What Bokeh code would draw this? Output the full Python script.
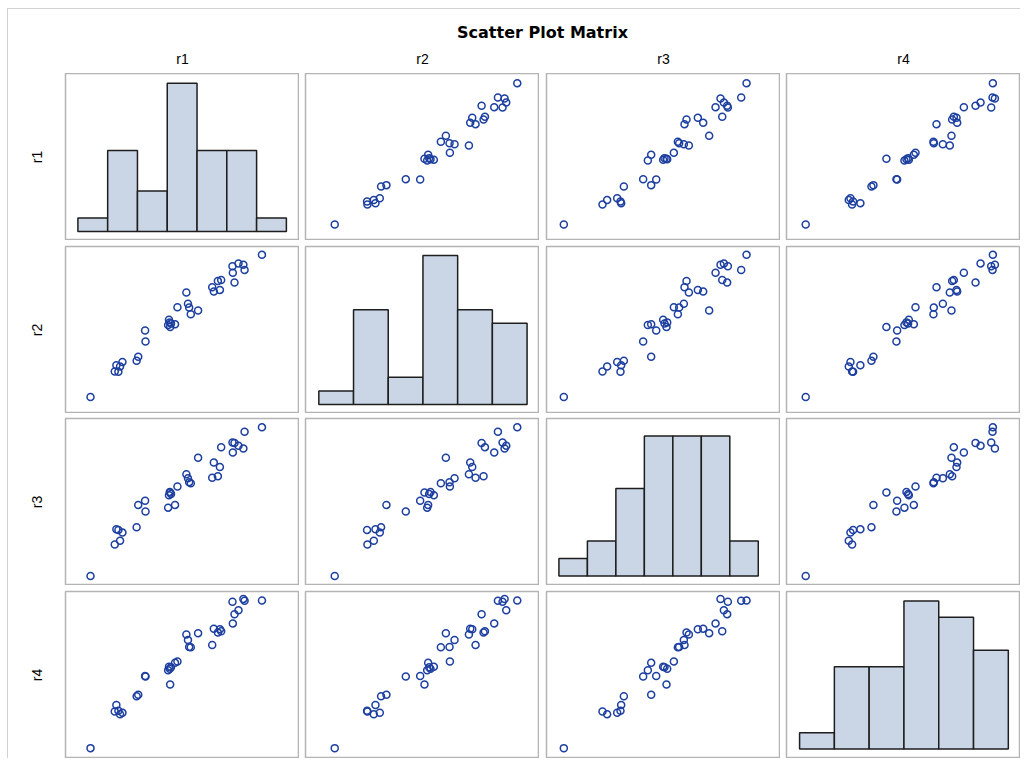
import numpy as np
from bokeh.plotting import figure
from bokeh.layouts import row, column
from bokeh.models import Range1d, Label, FixedTicker
from bokeh.embed import file_html
from bokeh.resources import INLINE

# ---------------- data ----------------
names = ["r1", "r2", "r3", "r4"]

r1 = [30.90, 27.98, 27.78, 26.96, 26.29, 26.01, 25.95, 24.05, 23.84, 23.50,
      22.82, 22.55, 20.18, 18.95, 18.68, 18.48, 18.21, 16.71, 16.31, 15.63,
      15.49, 15.42, 15.29, 15.15, 11.35, 11.28, 10.13, 9.86, 7.48, 7.08,
      6.80, 6.46, 6.19, 2.12]
r2 = [28.59, 25.80, 26.76, 27.00, 23.45, 25.27, 26.47, 23.93, 22.10, 23.73,
      21.81, 22.58, 18.30, 17.58, 18.83, 19.55, 21.62, 18.88, 15.75, 15.90,
      15.22, 16.09, 16.57, 15.61, 12.53, 14.60, 9.74, 8.97, 8.78, 7.92,
      6.95, 8.16, 7.00, 2.29]
r3 = [32.94, 32.00, 28.37, 28.96, 29.54, 27.50, 29.66, 28.67, 24.39, 22.40,
      25.33, 22.05, 26.38, 20.88, 21.11, 21.93, 22.81, 20.18, 16.20, 18.54,
      18.89, 19.01, 18.30, 15.61, 14.79, 17.08, 16.20, 11.40, 10.23, 8.47,
      10.81, 10.93, 7.65, 0.86]
r4 = [27.78, 27.73, 28.07, 26.01, 25.29, 23.61, 27.54, 22.17, 22.55, 21.93,
      22.65, 19.68, 21.83, 19.24, 19.29, 20.59, 21.59, 16.66, 16.42, 15.60,
      12.48, 15.36, 15.70, 15.07, 13.92, 14.02, 10.61, 10.33, 7.31, 7.07,
      7.69, 8.74, 7.55, 0.88]
data = {"r1": r1, "r2": r2, "r3": r3, "r4": r4}

# histogram bin edges per variable
bin_edges = {
    "r1": [0, 5, 10, 15, 20, 25, 30, 35],
    "r2": [0, 5, 10, 15, 20, 25, 30],
    "r3": [0, 5, 10, 15, 20, 25, 30, 35],
    "r4": [0, 5, 10, 15, 20, 25, 30],
}

# axis extents (hidden axes)
x_ranges = {"r1": (-2.08, 37.20), "r2": (-1.92, 31.79),
            "r3": (-2.18, 38.90), "r4": (-1.88, 31.75)}
y_ranges = {"r1": (-1.15, 32.87), "r2": (-0.77, 30.13),
            "r3": (-1.19, 34.85), "r4": (-1.01, 29.42)}
hist_y_ranges = {"r1": (-0.67, 11.72), "r2": (-0.67, 11.67),
                 "r3": (-0.54, 9.0), "r4": (-0.57, 9.57)}

# ---------------- styling / layout ----------------
FRAME_W, FRAME_H = 234, 167
COL_LEFT = [57, 6, 7, 6]
ROW_TOP = [0, 6, 5, 6]
HEADER_H = 64
TOTAL_W = sum(COL_LEFT) + 4 * FRAME_W

LABEL_FONT = "Liberation Sans"
MARKER_COLOR = "#1C3FA0"
BAR_FILL = "#CAD5E5"
BAR_LINE = "#1E1E1E"
PANEL_LINE = "#B4B4B4"


def make_panel(i, j):
    vx, vy = names[j], names[i]
    diag = i == j
    yr = hist_y_ranges[vx] if diag else y_ranges[vy]
    p = figure(frame_width=FRAME_W, frame_height=FRAME_H,
               x_range=Range1d(*x_ranges[vx]), y_range=Range1d(*yr),
               output_backend="svg", toolbar_location=None,
               x_axis_location=None,
               y_axis_location=("left" if j == 0 else None),
               min_border_left=COL_LEFT[j], min_border_right=0,
               min_border_top=ROW_TOP[i], min_border_bottom=0,
               outline_line_color=PANEL_LINE, outline_line_width=1.5,
               background_fill_color="white", border_fill_color="white")
    p.grid.visible = False
    if j == 0:
        ax = p.yaxis[0]
        ax.ticker = FixedTicker(ticks=[])
        ax.major_label_text_font_size = "0px"
        ax.major_label_standoff = 0
        ax.major_tick_out = 0
        ax.major_tick_in = 0
        ax.minor_tick_out = 0
        ax.axis_line_color = None
        ax.axis_label = vy
        ax.axis_label_text_font = LABEL_FONT
        ax.axis_label_text_font_size = "14px"
        ax.axis_label_text_font_style = "normal"
        ax.axis_label_text_color = "black"
        ax.axis_label_standoff = 21
    if diag:
        counts, edges = np.histogram(data[vx], bins=bin_edges[vx])
        p.quad(left=edges[:-1], right=edges[1:], bottom=0, top=counts,
               fill_color=BAR_FILL, line_color=BAR_LINE, line_width=1.5)
    else:
        p.scatter(x=data[vx], y=data[vy], marker="circle", size=7,
                  fill_color=None, line_color=MARKER_COLOR, line_width=1.5)
    return p


header = figure(width=TOTAL_W, height=HEADER_H,
                x_range=Range1d(0, TOTAL_W), y_range=Range1d(0, HEADER_H),
                min_border=0, x_axis_location=None, y_axis_location=None,
                toolbar_location=None, outline_line_color=None,
                output_backend="svg")
header.grid.visible = False
header.add_layout(Label(x=534, y=41, text="Scatter Plot Matrix",
                        text_align="center", text_baseline="middle",
                        text_font="DejaVu Sans", text_font_style="bold",
                        text_font_size="16px", text_color="black"))
cx = 0
for j, nm in enumerate(names):
    cx += COL_LEFT[j]
    header.add_layout(Label(x=cx + FRAME_W / 2, y=15, text=nm,
                            text_align="center", text_baseline="middle",
                            text_font=LABEL_FONT, text_font_size="14px",
                            text_color="black"))
    cx += FRAME_W

rows = [row([make_panel(i, j) for j in range(4)], spacing=0) for i in range(4)]
root = column([header] + rows, spacing=0,
              styles={"margin-left": "7px", "margin-top": "8px",
                      "border-left": "1px solid #D2D2D2",
                      "border-top": "1px solid #D2D2D2"})

open("out.html", "w").write(file_html(root, INLINE))
